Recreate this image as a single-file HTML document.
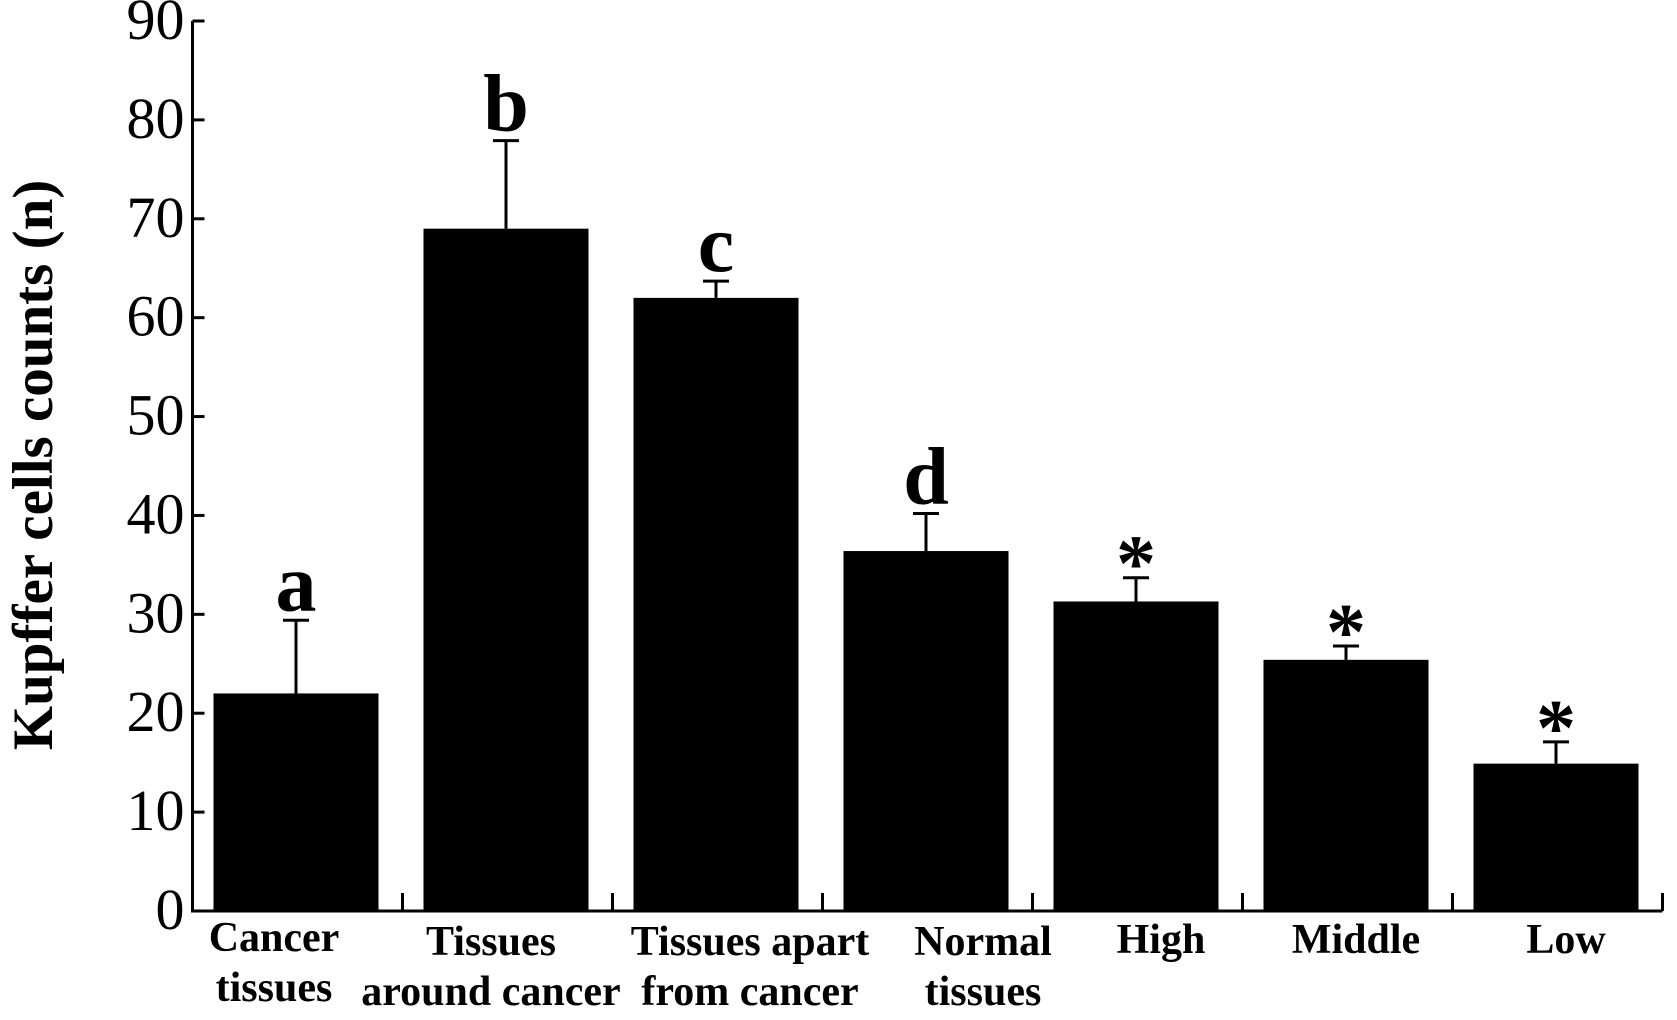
<!DOCTYPE html>
<html><head><meta charset="utf-8"><style>
html,body{margin:0;padding:0;background:#fff;}
svg{display:block;font-family:"Liberation Serif",serif;}
</style></head><body>
<svg id="chart" width="1677" height="1020" viewBox="0 0 1677 1020" xmlns="http://www.w3.org/2000/svg">
<text transform="translate(52,465) rotate(-90)" text-anchor="middle" font-size="57" font-weight="bold">Kupffer cells counts (n)</text>
<g id="axes"></g>
<g id="bars"></g>
<g id="xlabels"></g>
</svg>
<script>
const categories = ["Cancer tissues","Tissues around cancer","Tissues apart from cancer","Normal tissues","High","Middle","Low"];
const labelLines = [["Cancer","tissues"],["Tissues","around cancer"],["Tissues apart","from cancer"],["Normal","tissues"],["High"],["Middle"],["Low"]];
const means = [22, 69, 62, 36.4, 31.3, 25.4, 14.9];
const errors = [7.4, 8.9, 1.7, 3.8, 2.4, 1.4, 2.2];
const marks = ["a","b","c","d","*","*","*"];
const yTicks = [0,10,20,30,40,50,60,70,80,90];

const NS = "http://www.w3.org/2000/svg";
const x0 = 192.5, slot = 210, y0 = 911, yTop = 21, yMax = 90;
const y = v => y0 - (v / yMax) * (y0 - yTop);
const slotX = i => x0 + i * slot;
const barW = 165, barOff = 21;
const labelDx = [-22, -15, 34, 57, 25, 10, 10];
function mk(tag, attrs, parent){const e=document.createElementNS(NS,tag);for(const k in attrs)e.setAttribute(k,attrs[k]);parent.appendChild(e);return e;}
const axes = document.getElementById('axes'), bars = document.getElementById('bars'), xl = document.getElementById('xlabels');

const yAxis = mk('line',{x1:x0,y1:yTop,x2:x0,y2:y0+1.5,stroke:'#000','stroke-width':3},axes);


const xAxis = mk('line',{x1:x0-1.5,y1:y0,x2:slotX(categories.length),y2:y0,stroke:'#000','stroke-width':3},axes);


yTicks.forEach(t=>{
  const tk = mk('line',{x1:x0,y1:y(t),x2:x0+12,y2:y(t),stroke:'#000','stroke-width':3},axes);
  
  
  const lb = mk('text',{x:x0-8,y:y(t)+18,'text-anchor':'end','font-size':58},axes);
  lb.textContent = t;
  
  
});
for(let i=1;i<=categories.length;i++){
  const tk = mk('line',{x1:slotX(i),y1:y0,x2:slotX(i),y2:y0-18,stroke:'#000','stroke-width':3},axes);
  
  
}
categories.forEach((c,i)=>{
  const bx = slotX(i)+barOff, cx = bx+barW/2;
  const r = mk('rect',{x:bx,y:y(means[i]),width:barW,height:y0-y(means[i]),fill:'#000'},bars);
  
  
  const top = y(means[i]+errors[i]);
  const e = mk('path',{d:`M${cx},${y(means[i])}V${top}M${cx-13},${top}H${cx+13}`,stroke:'#000','stroke-width':3,fill:'none'},bars);
  
  
  const isStar = marks[i]==='*';
  const m = mk('text',{x:cx,y:top-(isStar?-13:10),'text-anchor':'middle','font-size':isStar?80:82,'font-weight':'bold'},bars);
  m.textContent = marks[i];
  
  
  const t = mk('text',{'text-anchor':'middle','font-size':42,'font-weight':'bold'},xl);
  
  
  labelLines[i].forEach((ln,j)=>{
    const ts = mk('tspan',{x:cx+labelDx[i],y:955+j*50+(labelLines[i].length===1?-2:(i===0?-4:0))},t);
    ts.textContent = ln;
  });
});
</script>
</body></html>
